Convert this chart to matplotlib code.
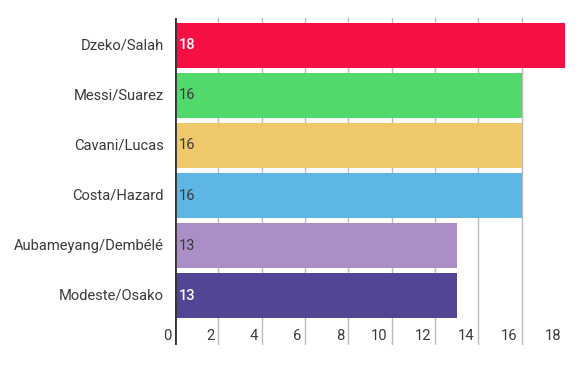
import matplotlib.pyplot as plt
from matplotlib.transforms import offset_copy

pairs = ["Dzeko/Salah", "Messi/Suarez", "Cavani/Lucas", "Costa/Hazard",
         "Aubameyang/Dembélé", "Modeste/Osako"]
goals = [18, 16, 16, 16, 13, 13]
colors = ["#F50F45", "#52D96B", "#EDC96B", "#5DB6E4", "#AA8FC6", "#524596"]
label_colors = ["white", "#3A3A3A", "#3A3A3A", "#3A3A3A", "#3A3A3A", "white"]
label_weights = ["medium", "normal", "normal", "normal", "normal", "medium"]
xticks = [0, 2, 4, 6, 8, 10, 12, 14, 16, 18]

plt.rcParams['font.family'] = ['Roboto', 'DejaVu Sans']

fig = plt.figure(figsize=(5.82, 3.67), dpi=100)
ax = fig.add_axes([0.3007, 0.0599, 0.6701, 0.8911])

ypos = list(range(len(pairs)))
ax.barh(ypos, goals, height=0.9, color=colors, zorder=2)

# gridlines (no line at 0 or 18)
for t in xticks[1:-1]:
    ax.axvline(t, color="#BBBBBB", lw=1, zorder=1)
ax.axvline(0, color="#333333", lw=2, zorder=3)

ax.set_xlim(0, 18)
ax.set_ylim(5.99, -0.55)

# value labels inside bars
for y, v, c, w in zip(ypos, goals, label_colors, label_weights):
    tr = offset_copy(ax.transData, fig=fig, x=4, y=0, units='dots')
    ax.text(0, y, str(v), transform=tr, ha='left', va='center',
            color=c, fontsize=10.5, fontweight=w, zorder=4)

# category labels
for y, name in zip(ypos, pairs):
    tr = offset_copy(ax.transData, fig=fig, x=-11, y=0, units='dots')
    ax.text(0, y, name, transform=tr, ha='right', va='center',
            color="#3A3A3A", fontsize=10.6, zorder=4)

# x tick labels placed left of their gridline, inside the plot area
for t in xticks:
    tr = offset_copy(ax.transData, fig=fig, x=-4, y=0, units='dots')
    ax.text(t, 5.8, str(t), transform=tr, ha='right', va='center',
            color="#3A3A3A", fontsize=10.6, zorder=4)

ax.set_xticks([])
ax.set_yticks([])
for s in ax.spines.values():
    s.set_visible(False)

fig.savefig("out.png", dpi=100)
